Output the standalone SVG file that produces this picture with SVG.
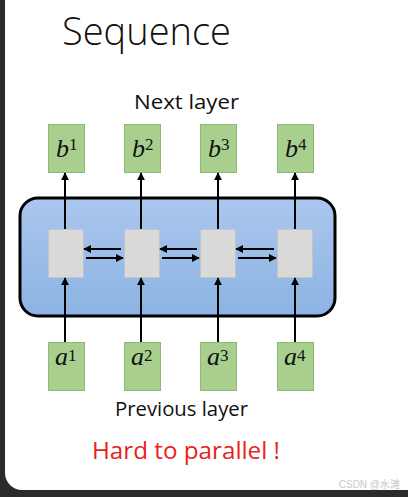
<svg xmlns="http://www.w3.org/2000/svg" width="408" height="497" viewBox="0 0 408 497">
<style>
.title{font-family:"Open Sans","Liberation Sans",sans-serif;font-weight:300;font-size:38px;fill:#111}
.lbl{font-family:"Open Sans","Liberation Sans",sans-serif;font-size:20.5px;fill:#111}
.red{font-family:"Open Sans","Liberation Sans",sans-serif;font-size:23.5px;fill:#e8231c}
.green{fill:#a9cf8f;stroke:#8fb877;stroke-width:1}
.gray{fill:#d9d9d9;stroke:#c4c4c4;stroke-width:1}
.m{font-family:"Liberation Serif",serif;font-style:italic;font-size:26px;fill:#111}
.s{font-family:"Liberation Serif",serif;font-size:17px;fill:#111}
.c line{stroke:#000;stroke-width:2;marker-end:url(#ah)}
</style>
<defs>
<marker id="ah" viewBox="0 0 10 10" refX="9" refY="5" markerWidth="4" markerHeight="4" orient="auto" markerUnits="strokeWidth">
<path d="M0,0 L10,5 L0,10 z" fill="#000"/>
</marker>
<linearGradient id="bg" x1="0" y1="0" x2="0" y2="1">
<stop offset="0" stop-color="#aac7ee"/>
<stop offset="1" stop-color="#8db3e3"/>
</linearGradient>
</defs>
<rect x="0" y="0" width="408" height="497" fill="#2b2b2b"/>
<path d="M5,0 H408 V490 H22 A17,17 0 0 1 5,473 Z" fill="#fff"/>
<text class="title" x="62" y="45">Sequence</text>
<text class="lbl" x="134" y="109" textLength="105" lengthAdjust="spacingAndGlyphs">Next layer</text>
<g id="rnn"><rect x="20" y="198" width="315" height="118" rx="18" fill="url(#bg)" stroke="#000" stroke-width="3"/></g>
<g id="b1"><rect class="green" x="48.5" y="124.5" width="36" height="48"/><text x="56" y="157"><tspan class="m">b</tspan><tspan class="s" dy="-7">1</tspan></text></g>
<g id="b2"><rect class="green" x="124.5" y="124.5" width="36" height="48"/><text x="132" y="157"><tspan class="m">b</tspan><tspan class="s" dy="-7">2</tspan></text></g>
<g id="b3"><rect class="green" x="200.5" y="124.5" width="36" height="48"/><text x="208" y="157"><tspan class="m">b</tspan><tspan class="s" dy="-7">3</tspan></text></g>
<g id="b4"><rect class="green" x="277.5" y="124.5" width="36" height="48"/><text x="285" y="157"><tspan class="m">b</tspan><tspan class="s" dy="-7">4</tspan></text></g>
<g id="h1"><rect class="gray" x="48.5" y="229.5" width="35" height="48"/></g>
<g id="h2"><rect class="gray" x="124.5" y="229.5" width="35" height="48"/></g>
<g id="h3"><rect class="gray" x="200.5" y="229.5" width="35" height="48"/></g>
<g id="h4"><rect class="gray" x="277.5" y="229.5" width="35" height="48"/></g>
<g id="a1"><rect class="green" x="48.5" y="342.5" width="36" height="48"/><text x="55" y="365"><tspan class="m">a</tspan><tspan class="s" dy="-4">1</tspan></text></g>
<g id="a2"><rect class="green" x="124.5" y="342.5" width="36" height="48"/><text x="131" y="365"><tspan class="m">a</tspan><tspan class="s" dy="-4">2</tspan></text></g>
<g id="a3"><rect class="green" x="200.5" y="342.5" width="36" height="48"/><text x="207" y="365"><tspan class="m">a</tspan><tspan class="s" dy="-4">3</tspan></text></g>
<g id="a4"><rect class="green" x="277.5" y="342.5" width="36" height="48"/><text x="284" y="365"><tspan class="m">a</tspan><tspan class="s" dy="-4">4</tspan></text></g>
<g id="connectors" class="c">
<line x1="65" y1="229" x2="65" y2="173"/>
<line x1="141" y1="229" x2="141" y2="173"/>
<line x1="218" y1="229" x2="218" y2="173"/>
<line x1="295" y1="229" x2="295" y2="173"/>
<line x1="65" y1="342" x2="65" y2="278"/>
<line x1="141" y1="342" x2="141" y2="278"/>
<line x1="218" y1="342" x2="218" y2="278"/>
<line x1="295" y1="342" x2="295" y2="278"/>
<line x1="121" y1="249" x2="84" y2="249"/>
<line x1="86" y1="258" x2="123" y2="258"/>
<line x1="197" y1="249" x2="160" y2="249"/>
<line x1="162" y1="258" x2="199" y2="258"/>
<line x1="274" y1="249" x2="236" y2="249"/>
<line x1="238" y1="258" x2="276" y2="258"/>
</g>
<text class="lbl" x="115" y="416" textLength="133" lengthAdjust="spacingAndGlyphs">Previous layer</text>
<text class="red" x="92" y="459" textLength="188" lengthAdjust="spacingAndGlyphs">Hard to parallel !</text>
<text x="400" y="488" text-anchor="end" font-family="Liberation Sans,Noto Sans CJK SC,sans-serif" font-size="10" fill="#c8c8c8">CSDN @水滩</text>
</svg>
